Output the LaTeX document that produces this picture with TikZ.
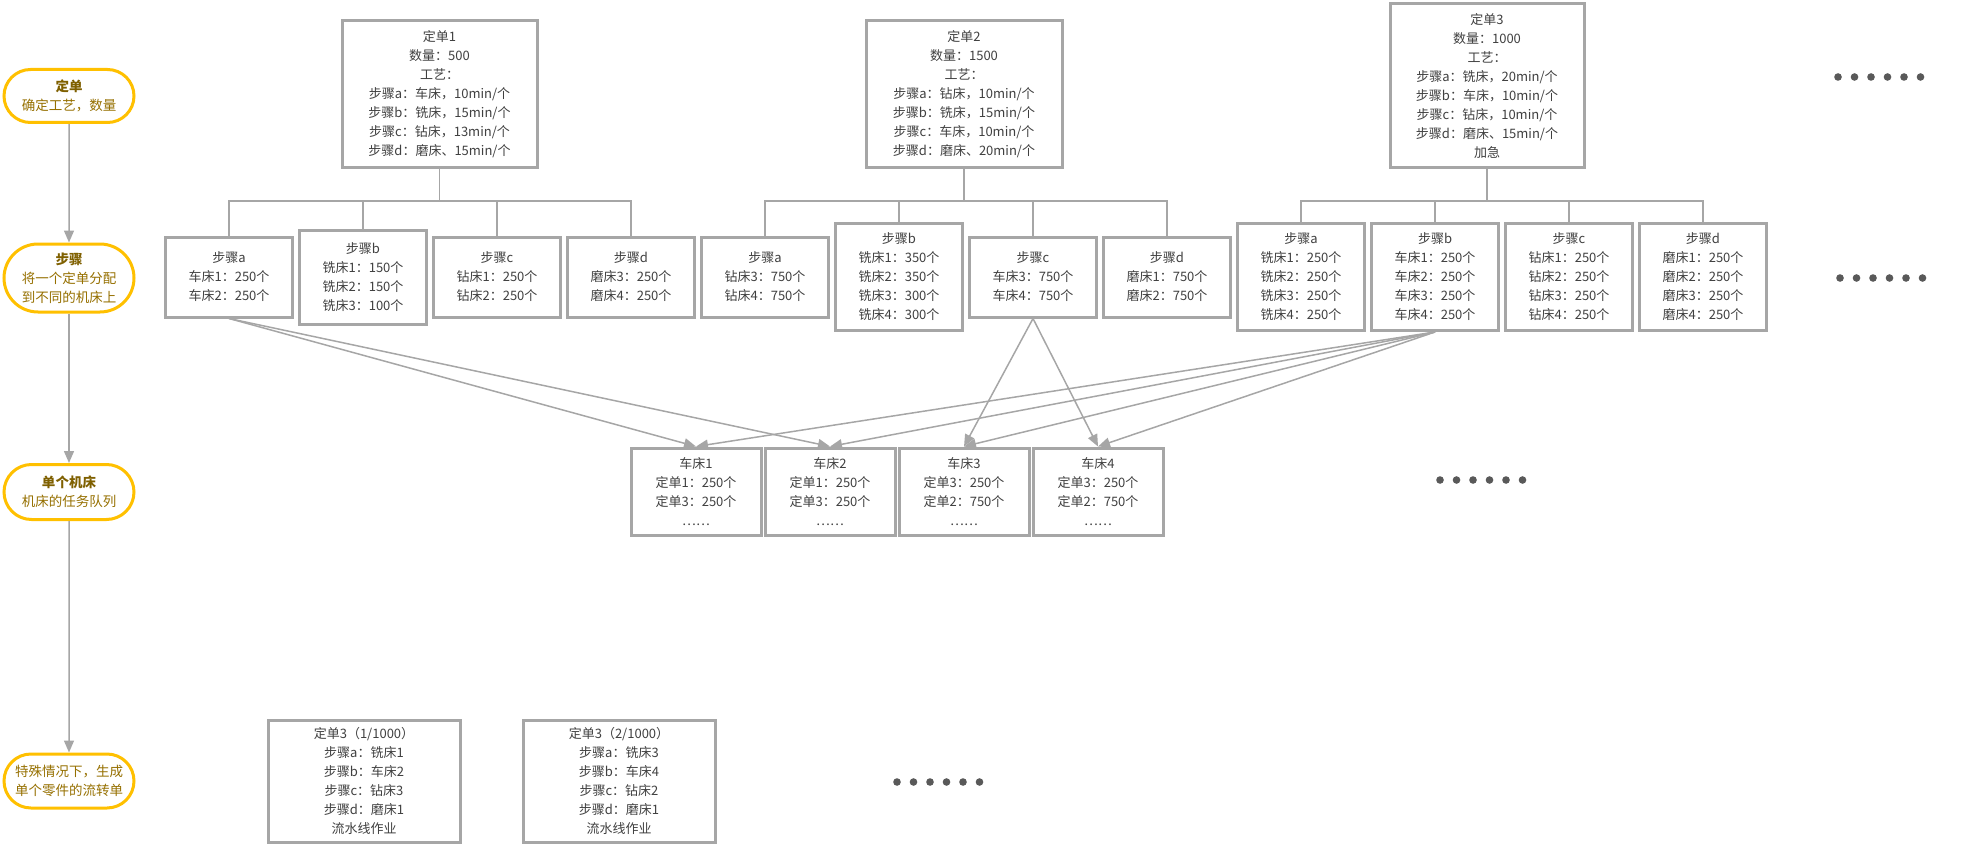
\documentclass[tikz,border=0pt]{standalone}
\usepackage{fontspec}
\setmainfont{Noto Sans CJK SC}
\usetikzlibrary{arrows.meta,shapes.misc}
\definecolor{boxgray}{HTML}{A6A6A6}
\definecolor{pillgold}{HTML}{FFC000}
\definecolor{pilltext}{HTML}{967000}
\definecolor{pilltitle}{HTML}{7F6000}
\definecolor{txtgray}{HTML}{404040}
\definecolor{dotgray}{HTML}{595959}

\begin{document}
\begin{tikzpicture}[x=1pt,y=-1pt,
    every node/.style={font=\fontsize{13}{19}\selectfont,text=txtgray,align=center,inner sep=0pt},
    box/.style={draw=boxgray,line width=3pt,fill=white},
    pill/.style={rounded rectangle,draw=pillgold,line width=3pt,fill=white,minimum width=130pt,
        text=pilltext,font=\fontsize{13.5}{19}\selectfont},
    tree/.style={draw=boxgray,line width=1.5pt},
    flow/.style={draw=boxgray,line width=1.5pt,-{Triangle[length=12pt,width=10pt]}}]
    \useasboundingbox (0,0) rectangle (1980,853);

    \node[pill,minimum height=53pt] (p1) at (69,96) {\textcolor{pilltitle}{\textbf{定单}}\\确定工艺，数量};
    \node[pill,minimum height=68pt] (p2) at (69,278) {\textcolor{pilltitle}{\textbf{步骤}}\\将一个定单分配\\到不同的机床上};
    \node[pill,minimum height=55pt] (p3) at (69,492) {\textcolor{pilltitle}{\textbf{单个机床}}\\机床的任务队列};
    \node[pill,minimum height=54pt] (p4) at (69,781) {特殊情况下，生成\\单个零件的流转单};
    \draw[flow] (p1) -- (p2);
    \draw[flow] (p2) -- (p3);
    \draw[flow] (p3) -- (p4);

    \node[box,minimum width=195pt,minimum height=147pt] (o1) at (439.5,94.5)
        {定单1\\数量：500\\工艺：\\步骤a：车床，10min/个\\步骤b：铣床，15min/个\\步骤c：钻床，13min/个\\步骤d：磨床、15min/个};
    \node[box,minimum width=196pt,minimum height=147pt] (o2) at (964,94.5)
        {定单2\\数量：1500\\工艺：\\步骤a：钻床，10min/个\\步骤b：铣床，15min/个\\步骤c：车床，10min/个\\步骤d：磨床、20min/个};
    \node[box,minimum width=194pt,minimum height=164pt] (o3) at (1487,86)
        {定单3\\数量：1000\\工艺：\\步骤a：铣床，20min/个\\步骤b：车床，10min/个\\步骤c：钻床，10min/个\\步骤d：磨床、15min/个\\加急};

    \foreach \h/\txt [count=\i] in {
        80/{步骤a\\车床1：250个\\车床2：250个},
        94/{步骤b\\铣床1：150个\\铣床2：150个\\铣床3：100个},
        80/{步骤c\\钻床1：250个\\钻床2：250个},
        80/{步骤d\\磨床3：250个\\磨床4：250个},
        80/{步骤a\\钻床3：750个\\钻床4：750个},
        107/{步骤b\\铣床1：350个\\铣床2：350个\\铣床3：300个\\铣床4：300个},
        80/{步骤c\\车床3：750个\\车床4：750个},
        80/{步骤d\\磨床1：750个\\磨床2：750个},
        107/{步骤a\\铣床1：250个\\铣床2：250个\\铣床3：250个\\铣床4：250个},
        107/{步骤b\\车床1：250个\\车床2：250个\\车床3：250个\\车床4：250个},
        107/{步骤c\\钻床1：250个\\钻床2：250个\\钻床3：250个\\钻床4：250个},
        107/{步骤d\\磨床1：250个\\磨床2：250个\\磨床3：250个\\磨床4：250个}}
        \node[box,minimum width=127pt,minimum height=\h pt] (s\i) at ({229+134*(\i-1)},277) {\txt};

    \coordinate (bar) at (0,201);
    \foreach \k in {1,2,3}
        \foreach \j [evaluate={\i=int(4*\k-4+\j)}] in {1,...,4}
            \draw[tree] (s\i.north) |- (o\k.south |- bar) -- (o\k.south);

    \foreach \txt [count=\i] in {
        {车床1\\定单1：250个\\定单3：250个\\……},
        {车床2\\定单1：250个\\定单3：250个\\……},
        {车床3\\定单3：250个\\定单2：750个\\……},
        {车床4\\定单3：250个\\定单2：750个\\……}}
        \node[box,minimum width=130pt,minimum height=87pt] (c\i) at ({696+134*(\i-1)},491.5) {\txt};

    \foreach \a/\b in {1/1,1/2,7/3,7/4,10/1,10/2,10/3,10/4}
        \draw[flow] (s\a.south) -- (c\b.north);

    \node[box,minimum width=192pt,minimum height=122pt] (f1) at (364,781)
        {定单3（1/1000）\\步骤a：铣床1\\步骤b：车床2\\步骤c：钻床3\\步骤d：磨床1\\流水线作业};
    \node[box,minimum width=192pt,minimum height=122pt] (f2) at (619,781)
        {定单3（2/1000）\\步骤a：铣床3\\步骤b：车床4\\步骤c：钻床2\\步骤d：磨床1\\流水线作业};

    \foreach \x/\y in {1838/77,1840/278,1440/480,897/782}
        \foreach \n in {0,...,5}
            \fill[dotgray] ({\x+16.5*\n},\y) circle (3.8pt);
\end{tikzpicture}
\end{document}
